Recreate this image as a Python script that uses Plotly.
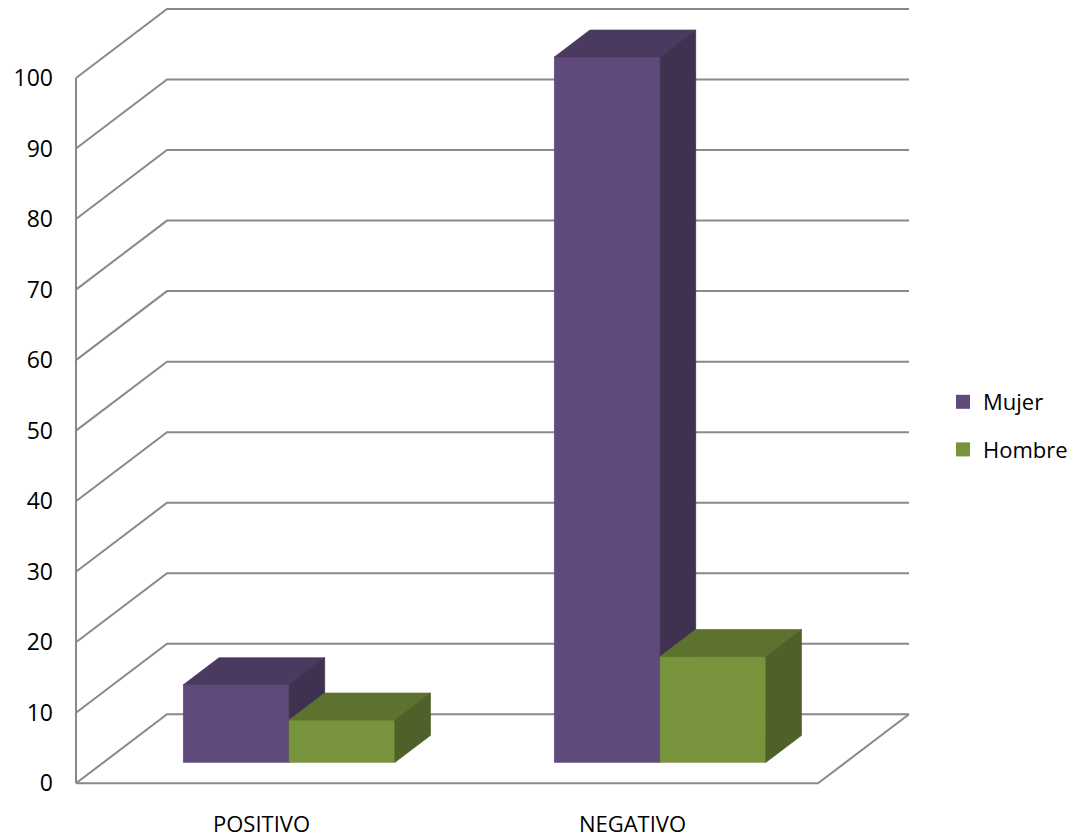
import plotly.graph_objects as go

# ---------------- data ----------------
categories = ["POSITIVO", "NEGATIVO"]
series_names = ["Mujer", "Hombre"]
mujer = [11, 100]
hombre = [6, 15]
y_ticks = list(range(0, 101, 10))

# ---------------- styles / geometry ----------------
front_colors = {"Mujer": "#604A7B", "Hombre": "#77933C"}
top_colors = {"Mujer": "#4A3A5F", "Hombre": "#5E722F"}
side_colors = {"Mujer": "#3F3150", "Hombre": "#4E6128"}
GRID = "#898989"
FONT = "Open Sans"

W, H = 1076, 839
PX_X = 371.0          # pixels per category unit
PX_Y = 7.053          # pixels per value unit
WALL_DX = 91 / PX_X   # depth offset of back wall (x units)
WALL_DY = 69 / PX_Y   # depth offset of back wall (value units)
BAR_FRONT = 0.304     # depth fraction of bar front faces
BAR_DEPTH = 0.39      # depth fraction of bar thickness
BAR_W = 0.285         # bar width in category units

M_L, M_R, M_T, M_B = 66, 157, 2, 49
plot_w = W - M_L - M_R
plot_h = H - M_T - M_B
x_min = -0.5 - 10 / PX_X
x_max = x_min + plot_w / PX_X
y_min = -(H - M_B - 783.3) / PX_Y
y_max = y_min + plot_h / PX_Y

fig = go.Figure()

# ---------------- walls / gridlines ----------------
gx, gy = [], []
x_front_left = -0.5
x_front_right = len(categories) - 0.5
for v in y_ticks:
    gx += [x_front_left, x_front_left + WALL_DX, x_front_right + WALL_DX, None]
    gy += [v, v + WALL_DY, v + WALL_DY, None]
# front vertical axis line
gx += [x_front_left, x_front_left, None]
gy += [y_ticks[0], y_ticks[-1], None]
# floor front edge and right edge
gx += [x_front_left, x_front_right, x_front_right + WALL_DX, None]
gy += [0, 0, WALL_DY, None]
fig.add_trace(go.Scatter(x=gx, y=gy, mode="lines",
                         line=dict(color=GRID, width=2),
                         hoverinfo="skip", showlegend=False))

# ---------------- 3D bars ----------------
series_vals = {"Mujer": mujer, "Hombre": hombre}
ddx = BAR_DEPTH * WALL_DX
ddy = BAR_DEPTH * WALL_DY


def poly(pts, color):
    xs = [p[0] for p in pts] + [pts[0][0]]
    ys = [p[1] for p in pts] + [pts[0][1]]
    fig.add_trace(go.Scatter(x=xs, y=ys, mode="lines", fill="toself",
                             fillcolor=color, line=dict(color=color, width=0.8),
                             hoverinfo="skip", showlegend=False))


for i, cat in enumerate(categories):
    for s, name in enumerate(series_names):
        v = series_vals[name][i]
        x0 = i + BAR_FRONT * WALL_DX + (s - 1) * BAR_W
        x1 = x0 + BAR_W
        y0 = BAR_FRONT * WALL_DY
        y1 = y0 + v
        poly([(x0, y0), (x1, y0), (x1, y1), (x0, y1)], front_colors[name])
        poly([(x0, y1), (x1, y1), (x1 + ddx, y1 + ddy), (x0 + ddx, y1 + ddy)], top_colors[name])
        poly([(x1, y0), (x1 + ddx, y0 + ddy), (x1 + ddx, y1 + ddy), (x1, y1)], side_colors[name])

# ---------------- legend entries ----------------
for k, name in enumerate(series_names):
    fig.add_trace(go.Scatter(x=[None], y=[None], mode="markers", name=name,
                             legendgroup=name,
                             marker=dict(symbol="square", size=14,
                                         color=front_colors[name])))

fig.update_layout(
    width=W, height=H, autosize=False,
    margin=dict(l=M_L, r=M_R, t=M_T, b=M_B),
    paper_bgcolor="white", plot_bgcolor="white",
    font=dict(family=FONT, color="black", size=22),
    showlegend=True,
    legend=dict(x=(943 - M_L) / plot_w, xanchor="left",
                y=(H - M_B - 381) / plot_h, yanchor="top",
                font=dict(family=FONT, size=22, color="black"),
                tracegroupgap=16, bgcolor="rgba(0,0,0,0)"),
    xaxis=dict(range=[x_min, x_max], showgrid=False, zeroline=False,
               showline=False, tickmode="array", tickvals=list(range(len(categories))),
               ticktext=categories, ticks="", ticklabelstandoff=19, automargin=False,
               tickfont=dict(family=FONT, size=22, color="black"), fixedrange=True),
    yaxis=dict(range=[y_min, y_max], showgrid=False, zeroline=False,
               showline=False, tickmode="array", tickvals=y_ticks, automargin=False,
               ticktext=[str(t) for t in y_ticks], ticks="", ticklabelstandoff=12,
               tickfont=dict(family=FONT, size=23, color="black"), fixedrange=True),
)

fig.write_html("out.html")
